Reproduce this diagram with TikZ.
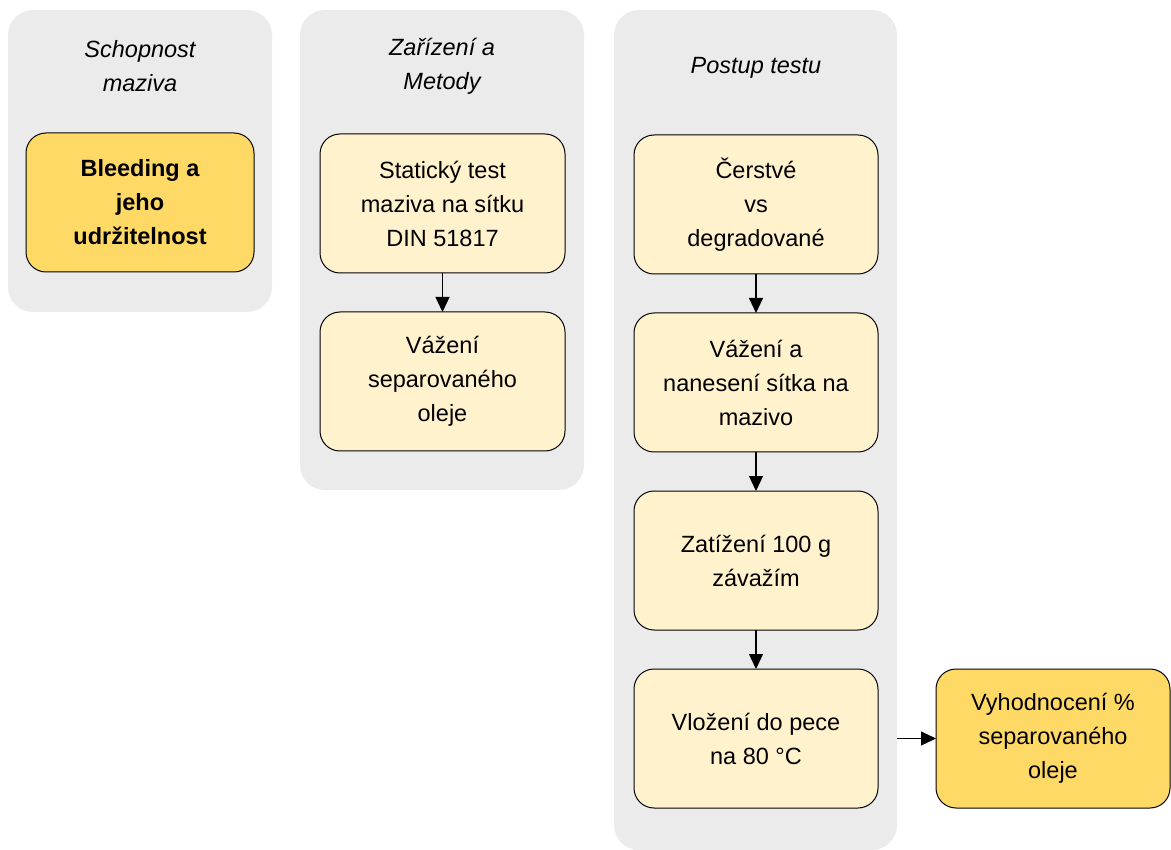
\documentclass[tikz,border=0pt]{standalone}
\usepackage{fontspec}
\setmainfont{Liberation Sans}
\usetikzlibrary{arrows.meta}
\definecolor{lanegray}{HTML}{EBEBEB}
\definecolor{paleyellow}{HTML}{FFF2CC}
\definecolor{goldbox}{HTML}{FFD966}
\begin{document}
\begin{tikzpicture}[x=1pt,y=-1pt,
  every node/.style={font=\fontsize{23.5}{34}\selectfont, inner sep=0pt, outer sep=0pt},
  lane/.style={fill=lanegray, rounded corners=25pt},
  lanetitle/.style={align=center, font=\fontsize{23.5}{34}\selectfont\itshape},
  stepbox/.style={draw=black, line width=1pt, rounded corners=20pt, align=center,
    fill=paleyellow, minimum width=245pt, minimum height=139pt},
  keybox/.style={stepbox, fill=goldbox},
  flow/.style={line width=1.2pt, -{Triangle[length=15pt,width=14pt]}}]
\useasboundingbox (0,0) rectangle (1171,850);

% lanes
\node[lane, minimum width=264pt, minimum height=302pt] (lane1) at (140,161) {};
\node[lane, minimum width=284pt, minimum height=480pt] (lane2) at (442,250) {};
\node[lane, minimum width=283pt, minimum height=840pt] (lane3) at (755.5,430) {};

% lane titles
\node[lanetitle] (t1) at (140,66) {Schopnost\\maziva};
\node[lanetitle] (t2) at (442,66) {Zařízení a\\Metody};
\node[lanetitle] (t3) at (756,68) {Postup testu};

% lane 1
\node[keybox, minimum width=228pt, font=\fontsize{23.5}{34}\selectfont\bfseries] (b1) at (140,202.5) {Bleeding a\\jeho\\udržitelnost};

% lane 2
\node[stepbox] (m1) at (442.5,203.5) {Statický test\\maziva na sítku\\DIN 51817};
\node[stepbox] (m2) at (442.5,381.5) {Vážení\\separovaného\\oleje};

% lane 3
\node[stepbox, minimum width=244pt] (p1) at (756,204.5) {Čerstvé\\vs\\degradované};
\node[stepbox, minimum width=244pt] (p2) at (756,382.5) {Vážení a\\nanesení sítka na\\mazivo};
\node[stepbox, minimum width=244pt] (p3) at (756,560.5) {Zatížení 100 g\\závažím};
\node[stepbox, minimum width=244pt] (p4) at (756,738.5) {Vložení do pece\\na 80 °C};

% result
\node[keybox, minimum width=234pt] (res) at (1053,738.5) {Vyhodnocení \%\\separovaného\\oleje};

% connectors
\draw[flow] (m1) -- (m2);
\draw[flow] (p1) -- (p2);
\draw[flow] (p2) -- (p3);
\draw[flow] (p3) -- (p4);
\draw[flow] (lane3.east |- res.west) -- (res.west);
\end{tikzpicture}
\end{document}
